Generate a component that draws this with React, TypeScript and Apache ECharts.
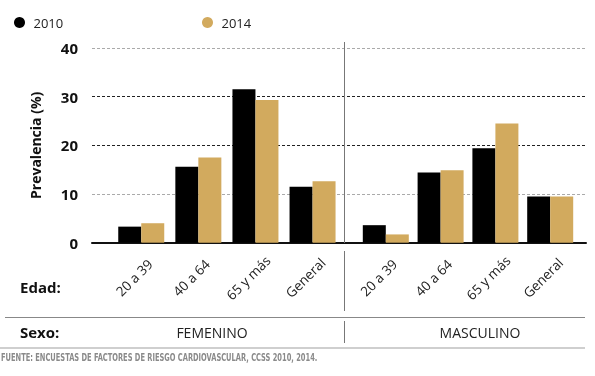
import React, { useEffect, useRef } from "react";
import * as echarts from "echarts";

const ageGroups = ["20 a 39", "40 a 64", "65 y más", "General"];
const seriesNames = ["2010", "2014"];
const femenino2010 = [3.3, 15.6, 31.5, 11.5];
const femenino2014 = [4.0, 17.5, 29.3, 12.6];
const masculino2010 = [3.6, 14.4, 19.4, 9.5];
const masculino2014 = [1.7, 14.9, 24.5, 9.5];
const yTicks = [0, 10, 20, 30, 40];
const sexLabels = ["FEMENINO", "MASCULINO"];
const source = "FUENTE: ENCUESTAS DE FACTORES DE RIESGO CARDIOVASCULAR, CCSS 2010, 2014.";

const FONT = "'Open Sans', 'Noto Sans', sans-serif";
const BLACK = "#000000";
const GOLD = "#D2AA5E";

export default function App() {
  const ref = useRef<HTMLDivElement>(null);
  useEffect(() => {
    if (!ref.current) return;
    const chart = echarts.init(ref.current, null, { renderer: "svg" });
    const yMin = yTicks[0];
    const yMax = yTicks[yTicks.length - 1];
    const yInterval = yTicks[1] - yTicks[0];
    const top = 48;
    const bottom = 133.3;

    const catAxis = (gridIndex: number) => ({
      type: "category",
      gridIndex,
      data: ageGroups,
      axisLine: { show: false },
      axisTick: { show: false },
      axisLabel: {
        rotate: 45,
        align: "center",
        verticalAlign: "middle",
        padding: [0, 20, 0, 0],
        margin: 28,
        fontFamily: FONT,
        fontSize: 13.5,
        color: "#222",
        interval: 0,
      },
    });
    const hiddenY = (gridIndex: number) => ({
      type: "value",
      gridIndex,
      min: yMin,
      max: yMax,
      interval: yInterval,
      axisLine: { show: false },
      axisTick: { show: false },
      axisLabel: { show: false },
      splitLine: { show: false },
    });
    const barStyle = (color: string) => ({ color });
    const legendBase = {
      top: 16,
      padding: 0,
      icon: "circle",
      itemWidth: 18,
      itemHeight: 11,
      textStyle: { fontFamily: FONT, fontSize: 13, color: "#222" },
    };

    chart.setOption({
      animation: false,
      legend: [
        { ...legendBase, data: [seriesNames[0]], left: 14 },
        { ...legendBase, data: [seriesNames[1]], left: 202 },
      ],
      grid: [
        { left: 92, right: 9, top, bottom },
        { left: 112.7, right: 253.9, top, bottom },
        { left: 358.4, right: 17.4, top, bottom },
      ],
      xAxis: [
        {
          type: "category",
          gridIndex: 0,
          data: ["x"],
          axisLine: { show: true, lineStyle: { color: "#111", width: 2 } },
          axisTick: { show: false },
          axisLabel: { show: false },
        },
        catAxis(1),
        catAxis(2),
      ],
      yAxis: [
        {
          type: "value",
          gridIndex: 0,
          min: yMin,
          max: yMax,
          interval: yInterval,
          name: "Prevalencia (%)",
          nameLocation: "middle",
          nameRotate: 90,
          nameGap: 50,
          nameTextStyle: { fontFamily: FONT, fontSize: 14, fontWeight: "bold", color: "#111" },
          axisLine: { show: false },
          axisTick: { show: false },
          axisLabel: {
            margin: 14,
            fontFamily: FONT,
            fontSize: 15,
            fontWeight: "bold",
            color: "#111",
          },
          splitLine: {
            show: true,
            lineStyle: {
              type: [3, 2],
              width: 1,
              color: ["#000", "#aaa", "#222", "#222", "#aaa"],
            },
          },
        },
        hiddenY(1),
        hiddenY(2),
      ],
      series: [
        {
          name: seriesNames[0],
          type: "bar",
          xAxisIndex: 1,
          yAxisIndex: 1,
          data: femenino2010,
          barWidth: 23,
          barGap: "0%",
          itemStyle: barStyle(BLACK),
        },
        {
          name: seriesNames[1],
          type: "bar",
          xAxisIndex: 1,
          yAxisIndex: 1,
          data: femenino2014,
          barWidth: 23,
          barGap: "0%",
          itemStyle: barStyle(GOLD),
        },
        {
          name: seriesNames[0],
          type: "bar",
          xAxisIndex: 2,
          yAxisIndex: 2,
          data: masculino2010,
          barWidth: 23,
          barGap: "0%",
          itemStyle: barStyle(BLACK),
        },
        {
          name: seriesNames[1],
          type: "bar",
          xAxisIndex: 2,
          yAxisIndex: 2,
          data: masculino2014,
          barWidth: 23,
          barGap: "0%",
          itemStyle: barStyle(GOLD),
        },
      ],
      graphic: [
        { type: "line", shape: { x1: 344.5, y1: 42, x2: 344.5, y2: 243 }, style: { stroke: "#777", lineWidth: 1 }, z: 100 },
        { type: "line", shape: { x1: 344.5, y1: 251, x2: 344.5, y2: 311 }, style: { stroke: "#777", lineWidth: 1 } },
        { type: "line", shape: { x1: 344.5, y1: 321, x2: 344.5, y2: 343 }, style: { stroke: "#777", lineWidth: 1 } },
        { type: "line", shape: { x1: 5, y1: 317.5, x2: 585, y2: 317.5 }, style: { stroke: "#888", lineWidth: 1 } },
        { type: "line", shape: { x1: 0, y1: 348, x2: 585, y2: 348 }, style: { stroke: "#cfcfcf", lineWidth: 2 } },
        {
          type: "text",
          x: 20,
          y: 287,
          style: { text: "Edad:", fontFamily: FONT, fontSize: 15, fontWeight: "bold", fill: "#111", verticalAlign: "middle" },
        },
        {
          type: "text",
          x: 20,
          y: 332,
          style: { text: "Sexo:", fontFamily: FONT, fontSize: 15, fontWeight: "bold", fill: "#111", verticalAlign: "middle" },
        },
        {
          type: "text",
          x: 212,
          y: 332,
          style: { text: sexLabels[0], fontFamily: FONT, fontSize: 14, fill: "#222", align: "center", verticalAlign: "middle" },
        },
        {
          type: "text",
          x: 480,
          y: 332,
          style: { text: sexLabels[1], fontFamily: FONT, fontSize: 14, fill: "#222", align: "center", verticalAlign: "middle" },
        },
        {
          type: "text",
          x: 1,
          y: 358,
          scaleX: 0.745,
          style: {
            text: source,
            fontFamily: "'DejaVu Sans Condensed', 'Liberation Sans Narrow', sans-serif",
            fontSize: 10,
            fontWeight: "bold",
            fill: "#8a8a8a",
            verticalAlign: "middle",
          },
        },
      ],
    });
    return () => chart.dispose();
  }, []);
  return <div ref={ref} style={{ width: 595, height: 376, position: "fixed", left: 0, top: 0 }} />;
}
